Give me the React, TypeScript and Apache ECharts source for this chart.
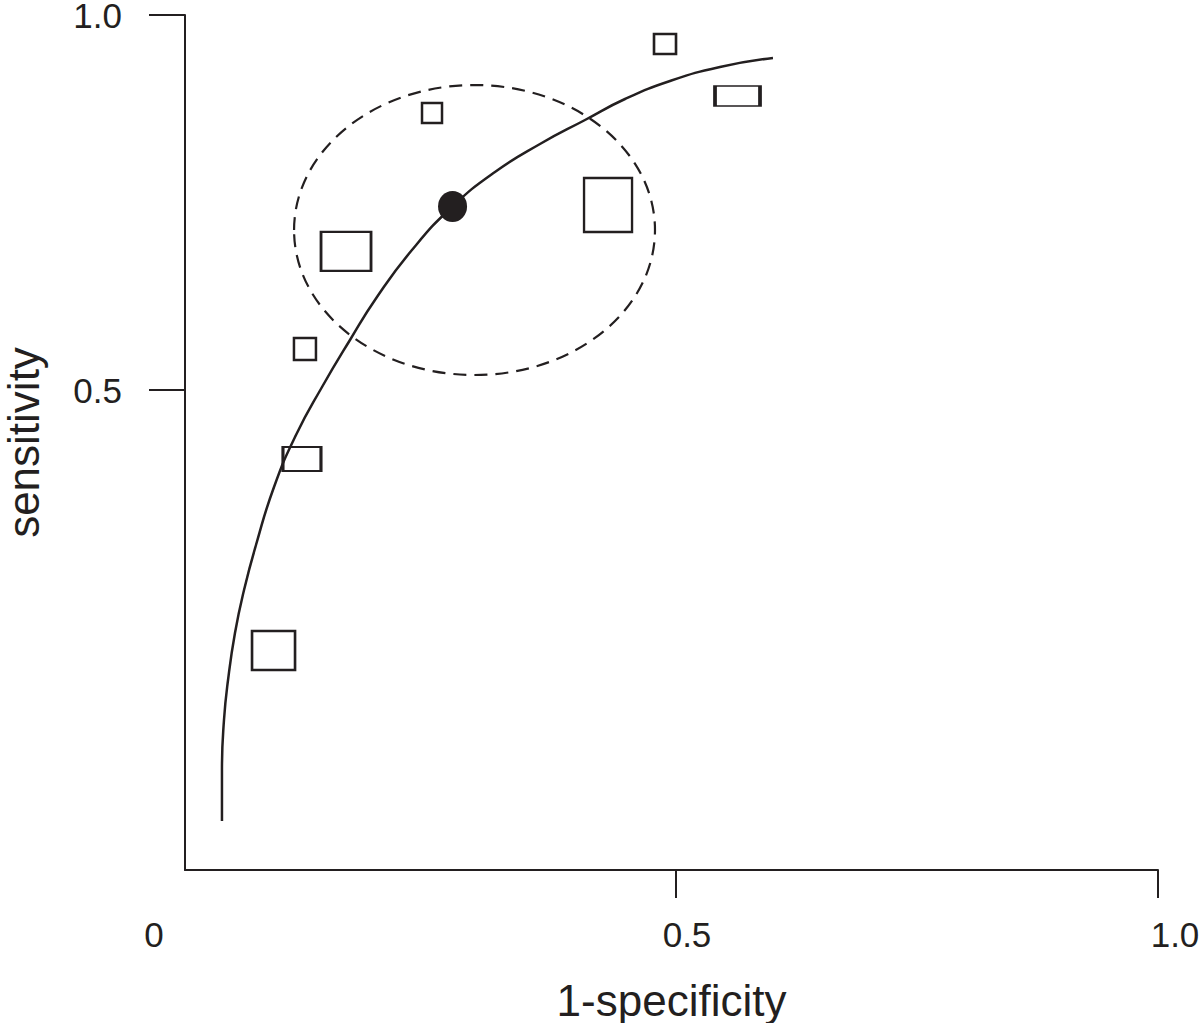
import React, { useEffect, useRef } from "react";
import * as echarts from "echarts";

// Study estimates (1-specificity, sensitivity)
const studyFpr = [0.4886, 0.5638, 0.2469, 0.4295, 0.1577, 0.1151, 0.112, 0.0825];
const studySens = [0.9613, 0.892, 0.8693, 0.7467, 0.6847, 0.5547, 0.408, 0.1527];
// Relative study weights (box width ~ negatives, box height ~ positives)
const studyNegWeight = [22, 45, 20, 48, 50, 22, 38, 43];
const studyPosWeight = [20, 20, 20, 54, 39, 22, 24, 39];

// Summary operating point
const summaryFpr = [0.2682];
const summarySens = [0.7447];

// Confidence region (center, radii)
const regionCenter = [0.291, 0.7133];
const regionRadii = [0.1872, 0.1933];

// SROC curve
const curveFpr = [
  0.029, 0.029, 0.0311, 0.0353, 0.0425, 0.0519, 0.0643, 0.083, 0.1058, 0.1328,
  0.1618, 0.1898, 0.2261, 0.2676, 0.3122, 0.3589, 0.4056, 0.4471, 0.4938, 0.5456,
  0.6006,
];
const curveSens = [
  -0.0747, -0.0067, 0.06, 0.1133, 0.176, 0.2333, 0.2933, 0.3707, 0.44, 0.504,
  0.5667, 0.624, 0.6867, 0.744, 0.7907, 0.828, 0.86, 0.888, 0.912, 0.9307,
  0.9427,
];

const xTickValues = [0.5, 1.0];
const xLabelValues = [0, 0.5, 1.0];
const xLabelTexts = ["0", "0.5", "1.0"];
const yTickValues = [0.5, 1.0];
const yLabelTexts = ["0.5", "1.0"];

const INK = "#231f20";
const FONT = "Liberation Sans, Arial, sans-serif";

export default function App() {
  const ref = useRef<HTMLDivElement>(null);

  useEffect(() => {
    if (!ref.current) return;
    const chart = echarts.init(ref.current, null, { renderer: "svg" });

    const labelStyle = { fontSize: 35, fontFamily: FONT, color: INK };
    const xRich: Record<string, any> = {
      l0: { ...labelStyle, padding: [0, 80, 0, 0] },
      l1: { ...labelStyle, padding: [0, 0, 0, 22] },
      l2: { ...labelStyle, padding: [0, 0, 0, 34] },
    };

    const option: any = {
      animation: false,
      backgroundColor: "#ffffff",
      grid: {
        left: 185,
        right: 42,
        top: 15,
        bottom: 153,
        containLabel: false,
        outerBoundsMode: "none",
      },
      xAxis: {
        type: "value",
        min: -0.00934,
        max: 1.0,
        name: "1-specificity",
        nameLocation: "middle",
        nameGap: 108,
        nameTextStyle: { fontSize: 44, fontFamily: FONT, color: INK },
        axisLine: { show: true, onZero: false, lineStyle: { color: INK, width: 2 } },
        axisTick: {
          show: true,
          customValues: xTickValues,
          length: 28,
          lineStyle: { color: INK, width: 2 },
        },
        axisLabel: {
          show: true,
          customValues: xLabelValues,
          margin: 47,
          ...labelStyle,
          formatter: (v: number) => {
            const i = xLabelValues.findIndex((x) => Math.abs(x - v) < 1e-6);
            if (i < 0) return "";
            return `{l${i}|${xLabelTexts[i]}}`;
          },
          rich: xRich,
        },
        splitLine: { show: false },
      },
      yAxis: {
        type: "value",
        min: -0.14,
        max: 1.0,
        name: "sensitivity",
        nameLocation: "middle",
        nameGap: 140,
        nameTextStyle: { fontSize: 44, fontFamily: FONT, color: INK },
        axisLine: { show: true, onZero: false, lineStyle: { color: INK, width: 2 } },
        axisTick: {
          show: true,
          customValues: yTickValues,
          length: 36,
          lineStyle: { color: INK, width: 2 },
        },
        axisLabel: {
          show: true,
          customValues: yTickValues,
          margin: 63,
          ...labelStyle,
          lineHeight: 30,
          formatter: (v: number) => {
            const i = yTickValues.findIndex((x) => Math.abs(x - v) < 1e-6);
            return i < 0 ? "" : yLabelTexts[i];
          },
        },
        splitLine: { show: false },
      },
      series: [
        {
          type: "custom",
          name: "region",
          z: 1,
          clip: false,
          data: [[regionCenter[0], regionCenter[1], regionRadii[0], regionRadii[1]]],
          renderItem: (params: any, api: any) => {
            const c = api.coord([api.value(0), api.value(1)]);
            const s = api.size([api.value(2), api.value(3)]);
            return {
              type: "ellipse",
              shape: { cx: c[0], cy: c[1], rx: s[0], ry: s[1] },
              style: { fill: "none", stroke: INK, lineWidth: 2.2, lineDash: [13, 8] },
            };
          },
        },
        {
          type: "line",
          name: "SROC",
          z: 2,
          smooth: 0.5,
          showSymbol: false,
          symbol: "none",
          lineStyle: { color: INK, width: 2.5 },
          data: curveFpr.map((x, i) => [x, curveSens[i]]),
        },
        {
          type: "scatter",
          name: "studies",
          z: 3,
          symbol: "rect",
          symbolSize: (v: number[]) => [v[2], v[3]],
          itemStyle: { color: "rgba(0,0,0,0)", borderColor: INK, borderWidth: 2.5, opacity: 1 },
          data: studyFpr.map((x, i) => [x, studySens[i], studyNegWeight[i], studyPosWeight[i]]),
        },
        {
          type: "scatter",
          name: "summary",
          z: 4,
          symbol: "path://M0,50 A50,50 0 1,1 100,50 A50,50 0 1,1 0,50 Z",
          symbolSize: [29, 31],
          itemStyle: { color: INK, opacity: 1 },
          data: summaryFpr.map((x, i) => [x, summarySens[i]]),
        },
      ],
    };

    chart.setOption(option);
    return () => chart.dispose();
  }, []);

  return (
    <div
      ref={ref}
      style={{ position: "absolute", left: 0, top: 0, width: 1200, height: 1023, background: "#fff" }}
    />
  );
}
